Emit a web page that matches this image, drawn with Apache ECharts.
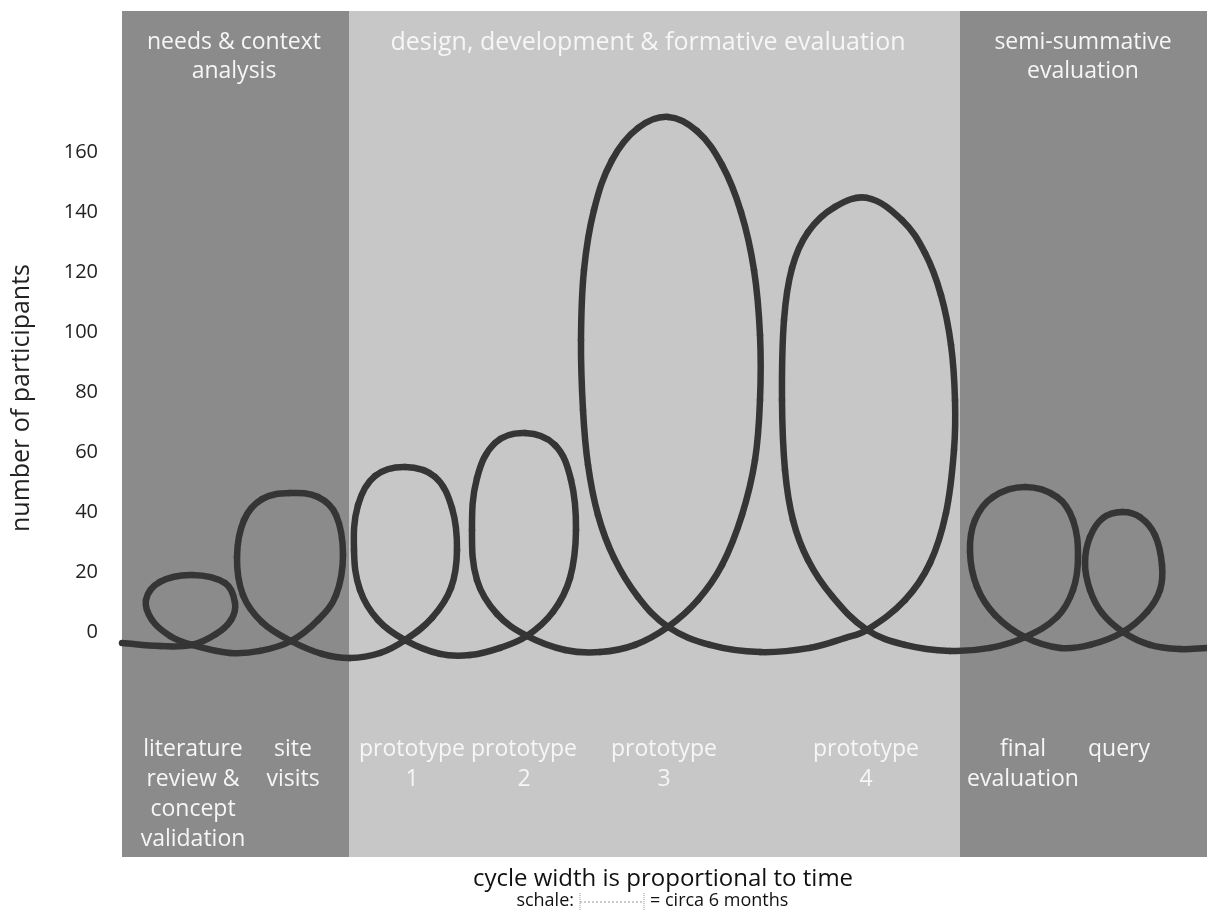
<!DOCTYPE html>
<html>
<head>
<meta charset="utf-8">
<script src="https://cdn.jsdelivr.net/npm/echarts@6/dist/echarts.min.js"></script>
<style>
html,body{margin:0;padding:0;background:#fff;}
#chart{width:1207px;height:914px;}
</style>
</head>
<body>
<div id="chart"></div>
<script>
// ---- data ----
const yTicks = [0, 20, 40, 60, 80, 100, 120, 140, 160];
const phaseNames = ['needs & context\nanalysis', 'design, development & formative evaluation', 'semi-summative\nevaluation'];
const phaseBounds = [0, 227, 838, 1085];           // time axis (arbitrary units)
const loopLabels = ['literature\nreview &\nconcept\nvalidation', 'site\nvisits', 'prototype\n1', 'prototype\n2',
                    'prototype\n3', 'prototype\n4', 'final\nevaluation', 'query'];
// traced path of the looping curve [time, participants]
const loopPath = [
  [0,-3.7],[38,-4.7],
  [70,-4.3],[94,-0.7],[109,4],[113,9.7],[103,16.3],[70,19],[38,16.7],[24,10.7],[30,4],[48,-1.3],[70,-4.3],
  [108,-7],[138,-6.3],
  [169,-3],[196,4],[214,12.3],[221,25.7],[214,39],[196,45],[168,46.3],[140,44.3],[122,37.3],[115,25],[121,12.3],[140,3.3],[169,-3],
  [200,-7.3],[228,-8.7],[258,-7],
  [283,-2.7],[310,4.7],[329,14.7],[335,27.3],[330,41.3],[313,51.7],[283,55],[253,52],[236,42.3],[232,27.3],[238,14],[256,4],[283,-2.7],
  [318,-7.3],[348,-7.7],[378,-5.3],
  [405,-1.3],[431,6.7],[448,18],[454,34],[449,50.7],[433,62.3],[403,66.3],[373,63],[355,51.3],[350,34],[355,17.3],[375,6],[405,-1.3],
  [443,-6],[478,-6.7],[513,-4.3],
  [546,1.7],[576,10.7],[600,22.3],[620,39],[633,57.3],[638,77.3],[638,99],[632,120.7],[619,140],[600,155.7],[575,167],[546,171.7],
  [516,168],[490,157.3],[472,140.7],[462,120.7],[459,97.3],[461,74],[466,55.7],[476,39],[492,24.7],[516,11.7],[546,1.7],
  [588,-4.3],[638,-6.7],[688,-5.3],[723,-2],
  [745,0.7],[783,10.7],[808,23],[824,39.7],[832,60.7],[833,77.3],[829,95.7],[819,112.3],[803,126.3],[780,137.3],[745,144.7],
  [713,141.7],[686,133.3],[670,121.3],[662,104],[660,77.3],[663,54],[671,37.3],[686,24],[710,12],[745,0.7],
  [783,-4.3],[828,-6.3],[868,-5.3],
  [903,-1.7],[935,5],[951,14],[956,25],[951,37.3],[935,45],[903,48.3],[871,45],[853,37.3],[848,26.7],[855,15],[873,5.7],[903,-1.7],
  [938,-5.3],[968,-4.3],
  [1001,0],[1025,6.7],[1038,14],[1040,22.3],[1033,32.3],[1018,38.3],[1000,40],[981,38],[968,31.7],[963,23],[968,14],[980,6.3],[1001,0],
  [1028,-4.3],[1058,-5.7],[1085,-5.3]
];
const yTitle = 'number of participants';
const footTitle = 'cycle width is proportional to time';
const scaleLeft = 'schale:';
const scaleRight = '= circa 6 months';

// ---- chart ----
const chart = echarts.init(document.getElementById('chart'), null, {renderer: 'canvas'});
const FONT = '"Open Sans", "DejaVu Sans", sans-serif';
const Y_MIN = -75, Y_MAX = 207;
const bandColors = ['#8b8b8b', '#c7c7c7', '#8b8b8b'];
const bandData = phaseNames.map((n, i) => [phaseBounds[i], phaseBounds[i + 1]]);

const labelX = [193, 293, 412, 524, 664, 866, 1023, 1119];
const headerX = [234, 648, 1083];
const headerY = [57, 43, 57];
const headerSize = [23, 25, 23];

const graphics = [];
phaseNames.forEach((t, i) => {
  graphics.push({type: 'text', z: 100, x: headerX[i], y: headerY[i],
    style: {text: t, fill: '#f6f6f6', font: headerSize[i] + 'px ' + FONT, align: 'center', verticalAlign: 'middle', lineHeight: 29}});
});
loopLabels.forEach((t, i) => {
  graphics.push({type: 'text', z: 100, x: labelX[i], y: 734,
    style: {text: t, fill: '#f6f6f6', font: '23px ' + FONT, align: 'center', verticalAlign: 'top', lineHeight: 30}});
});
graphics.push({type: 'text', z: 100, x: 22, y: 398, rotation: Math.PI / 2,
  style: {text: yTitle, fill: '#222', font: '25px ' + FONT, align: 'center', verticalAlign: 'middle'}});
graphics.push({type: 'text', z: 100, x: 663, y: 879,
  style: {text: footTitle, fill: '#111', font: '24px ' + FONT, align: 'center', verticalAlign: 'middle'}});
graphics.push({type: 'text', z: 100, x: 574, y: 901,
  style: {text: scaleLeft, fill: '#111', font: '18px ' + FONT, align: 'right', verticalAlign: 'middle'}});
graphics.push({type: 'text', z: 100, x: 650, y: 901,
  style: {text: scaleRight, fill: '#111', font: '18px ' + FONT, align: 'left', verticalAlign: 'middle'}});
graphics.push({type: 'line', z: 100, shape: {x1: 580, y1: 902, x2: 644, y2: 902},
  style: {stroke: '#999', lineWidth: 1, lineDash: [2, 2]}});
graphics.push({type: 'line', z: 100, shape: {x1: 580, y1: 893, x2: 580, y2: 911},
  style: {stroke: '#999', lineWidth: 1, lineDash: [1, 1]}});
graphics.push({type: 'line', z: 100, shape: {x1: 644, y1: 893, x2: 644, y2: 911},
  style: {stroke: '#999', lineWidth: 1, lineDash: [1, 1]}});

const SMOOTH = 0.38;
function curveSegment(params, api) {
  const i = params.dataIndex;
  const n = loopPath.length;
  if (i >= n - 1) return null;
  const P = k => api.coord(loopPath[Math.max(0, Math.min(n - 1, k))]);
  const p0 = P(i - 1), p1 = P(i), p2 = P(i + 1), p3 = P(i + 2);
  const d = (a, b) => Math.hypot(b[0] - a[0], b[1] - a[1]) || 1e-6;
  const d01 = d(p0, p1), d12 = d(p1, p2), d23 = d(p2, p3);
  const r1 = SMOOTH * d12 / (d01 + d12), r2 = SMOOTH * d12 / (d12 + d23);
  return {
    type: 'bezierCurve',
    shape: {
      x1: p1[0], y1: p1[1], x2: p2[0], y2: p2[1],
      cpx1: p1[0] + (p2[0] - p0[0]) * r1, cpy1: p1[1] + (p2[1] - p0[1]) * r1,
      cpx2: p2[0] - (p3[0] - p1[0]) * r2, cpy2: p2[1] - (p3[1] - p1[1]) * r2
    },
    style: {stroke: '#353535', lineWidth: 6.5, fill: null, lineCap: 'round'}
  };
}

chart.setOption({
  animation: false,
  backgroundColor: '#fff',
  grid: {left: 122, right: 0, top: 11, bottom: 57},
  xAxis: {type: 'value', min: 0, max: 1085, show: false},
  yAxis: {
    type: 'value', min: Y_MIN, max: Y_MAX,
    axisLine: {show: false}, axisTick: {show: false}, splitLine: {show: false},
    axisLabel: {customValues: yTicks, margin: 24, color: '#222', fontSize: 20, fontFamily: FONT}
  },
  graphic: graphics,
  series: [{
    type: 'custom',
    name: 'phases',
    silent: true,
    z: 1,
    data: bandData,
    renderItem: (params, api) => {
      const a = api.coord([api.value(0), Y_MAX]);
      const b = api.coord([api.value(1), Y_MIN]);
      return {type: 'rect', shape: {x: a[0], y: a[1], width: b[0] - a[0], height: b[1] - a[1]},
        style: {fill: bandColors[params.dataIndex]}};
    }
  }, {
    type: 'custom',
    name: 'participants',
    silent: true,
    z: 3,
    data: loopPath,
    renderItem: curveSegment
  }]
});
</script>
</body>
</html>
